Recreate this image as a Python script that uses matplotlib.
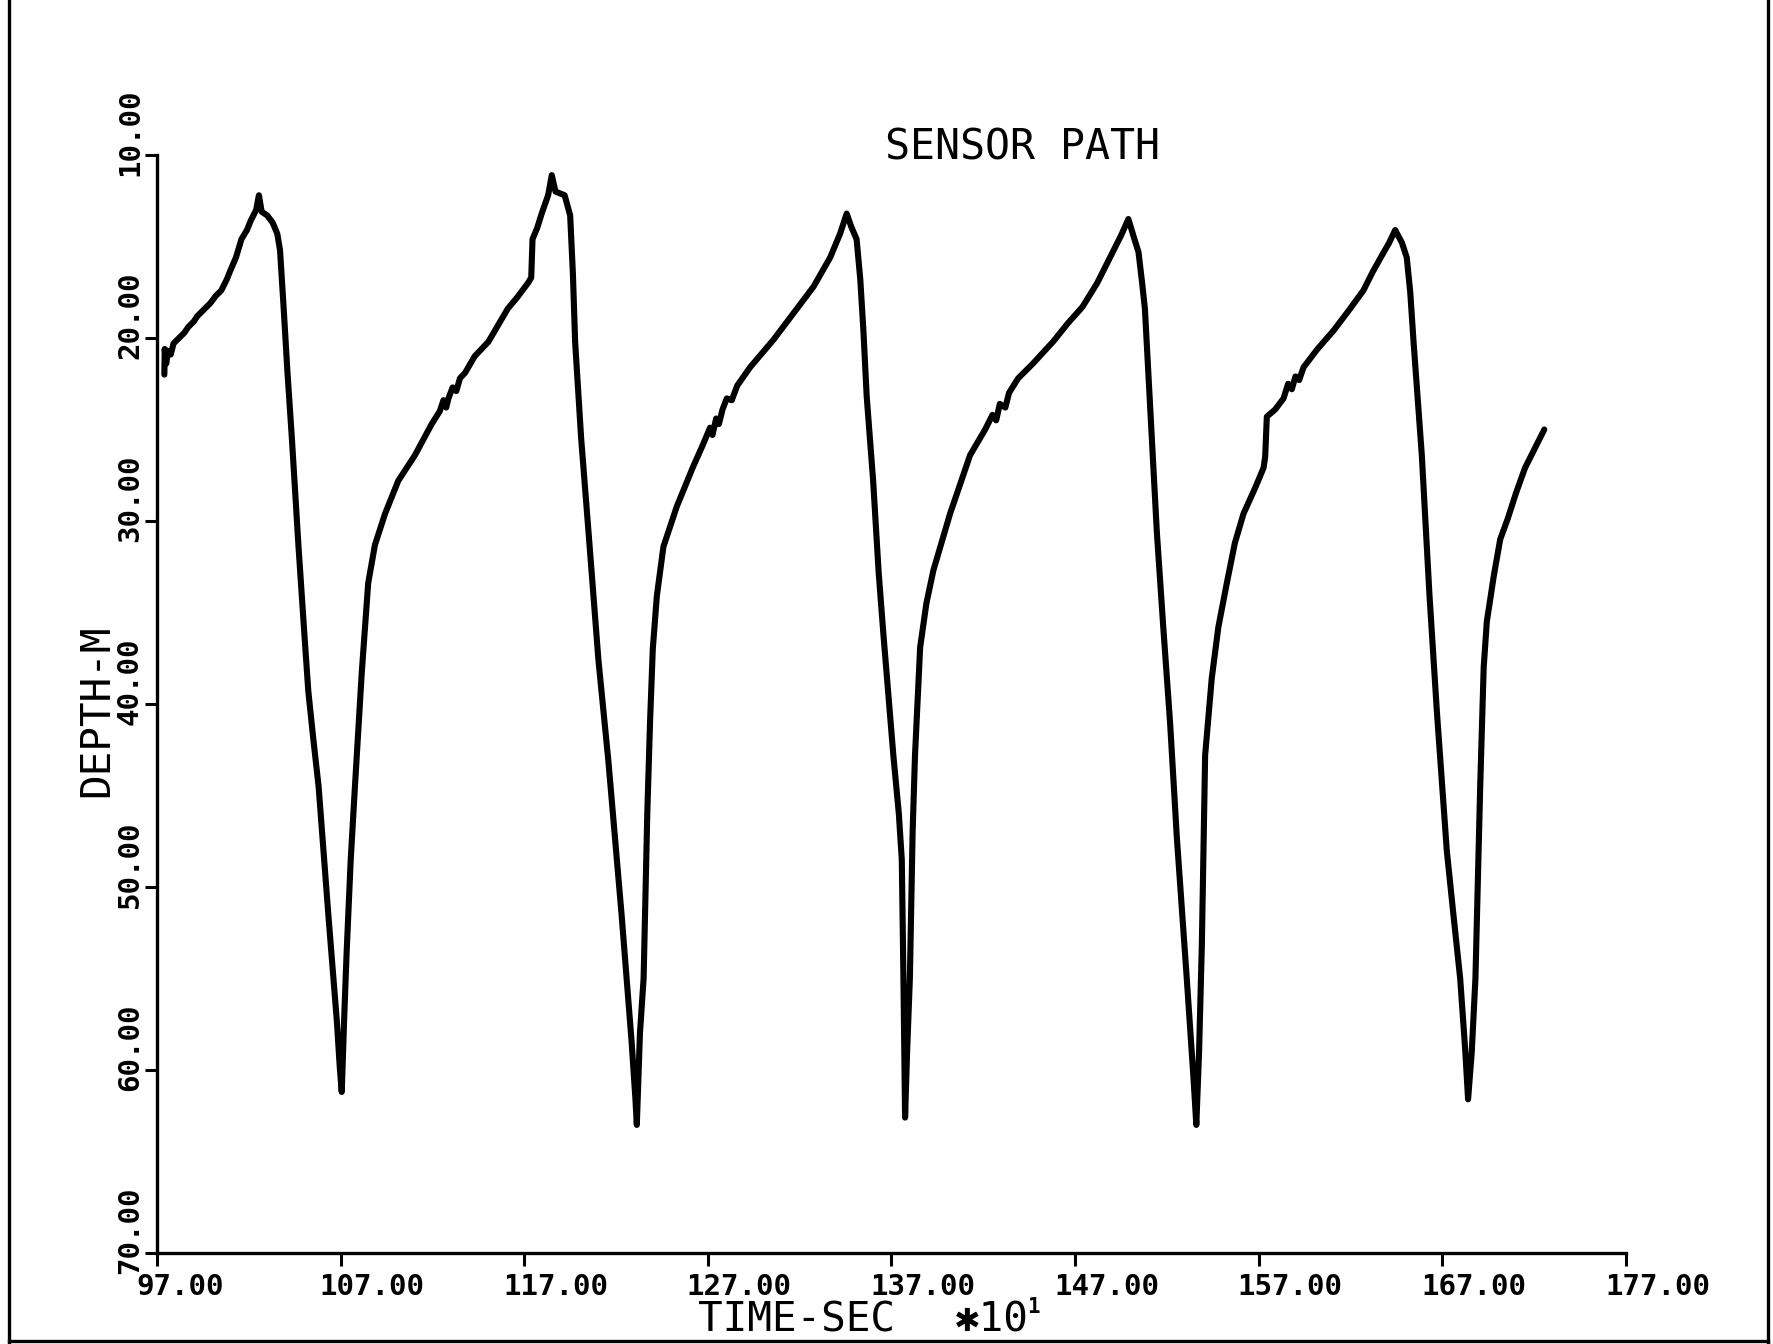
import matplotlib
matplotlib.use("Agg")
import matplotlib.pyplot as plt
from matplotlib.transforms import blended_transform_factory, ScaledTranslation
from matplotlib.lines import Line2D

# ---------------- data ----------------
time_s10 = [
    # start and first ascent
    97.40, 97.42, 97.50, 97.60, 97.75, 97.90, 98.20, 98.50, 98.70, 99.00,
    99.20, 99.60, 99.90, 100.20, 100.50, 100.80, 101.00, 101.30, 101.60, 101.90,
    102.10, 102.40, 102.55, 102.70, 103.00, 103.30, 103.55, 103.70,
    # descent 1
    103.90, 104.10, 104.34, 104.70, 105.00, 105.24, 105.50, 105.80, 106.33, 106.80,
    106.95, 107.06,
    # rise 1
    107.20, 107.33, 107.55, 107.78, 108.15, 108.50, 108.87, 109.42, 110.14, 111.05,
    111.96, 112.40, 112.60, 112.75, 112.87, 113.10, 113.30, 113.50, 113.78, 114.30,
    115.05, 116.10, 116.60, 117.20, 117.38, 117.45, 117.70, 117.95, 118.30, 118.50,
    118.70, 119.20, 119.50,
    # descent 2
    119.65, 119.77, 120.10, 120.50, 121.04, 121.58, 122.30, 122.85, 123.05, 123.13,
    # rise 2
    123.30, 123.50, 123.70, 123.85, 124.00, 124.22, 124.58, 125.31, 126.21, 126.70,
    127.12, 127.25, 127.45, 127.60, 127.80, 128.03, 128.30, 128.60, 129.30, 130.57,
    131.66, 132.75, 133.66, 134.20, 134.56,
    # descent 3
    134.80, 135.10, 135.30, 135.47, 135.65, 136.00, 136.30, 136.56, 137.10, 137.40,
    137.56, 137.65, 137.74,
    # rise 3
    137.85, 138.00, 138.15, 138.28, 138.56, 138.90, 139.28, 140.19, 141.28, 142.10,
    142.50, 142.70, 142.90, 143.20, 143.40, 143.90, 144.70, 145.80, 146.60, 147.40,
    148.20, 148.90, 149.50, 149.90,
    # descent 4
    150.20, 150.45, 150.65, 150.80, 151.08, 151.45, 151.80, 152.17, 152.54, 153.08,
    153.45, 153.60,
    # rise 4
    153.75, 153.90, 154.08, 154.44, 154.80, 155.26, 155.70, 156.17, 156.80, 157.26,
    157.35, 157.44, 157.90, 158.35, 158.60, 158.80, 159.00, 159.20, 159.44, 160.20,
    161.07, 161.90, 162.70, 163.20, 163.70, 164.10, 164.43,
    # descent 5
    164.80, 165.06, 165.25, 165.43, 165.88, 166.30, 166.70, 167.24, 167.60, 167.97,
    168.25, 168.40,
    # rise 5
    168.60, 168.80, 169.06, 169.25, 169.42, 169.80, 170.15, 170.55, 171.00, 171.50,
    172.00, 172.55,
]
depth_m = [
    22.0, 20.6, 21.4, 20.7, 20.9, 20.3, 20.0, 19.7, 19.4, 19.1,
    18.8, 18.4, 18.1, 17.7, 17.4, 16.8, 16.3, 15.6, 14.6, 14.1,
    13.6, 13.0, 12.2, 13.1, 13.3, 13.7, 14.3, 15.2,
    18.4, 21.8, 25.4, 31.3, 35.8, 39.3, 41.8, 44.5, 51.5, 57.4,
    59.8, 61.2,
    57.0, 53.5, 48.5, 44.5, 38.3, 33.4, 31.3, 29.6, 27.8, 26.4,
    24.7, 24.0, 23.4, 23.8, 23.3, 22.7, 22.9, 22.2, 21.9, 21.0,
    20.2, 18.4, 17.8, 17.0, 16.7, 14.6, 14.0, 13.2, 12.2, 11.1,
    12.0, 12.2, 13.3,
    16.5, 20.2, 25.5, 30.6, 37.6, 43.1, 51.5, 58.5, 61.5, 63.0,
    58.0, 55.0, 46.0, 41.0, 37.0, 34.1, 31.4, 29.2, 27.0, 25.9,
    24.9, 25.3, 24.4, 24.7, 23.9, 23.3, 23.4, 22.6, 21.6, 20.1,
    18.65, 17.2, 15.6, 14.3, 13.2,
    13.9, 14.6, 16.8, 19.6, 23.2, 27.8, 32.8, 36.2, 42.8, 46.0,
    48.5, 55.0, 62.6,
    59.0, 55.0, 47.0, 42.8, 36.9, 34.5, 32.7, 29.6, 26.4, 25.0,
    24.2, 24.5, 23.6, 23.8, 23.0, 22.2, 21.4, 20.2, 19.2, 18.3,
    17.0, 15.6, 14.4, 13.5,
    14.5, 15.3, 17.0, 18.4, 23.7, 30.6, 35.8, 41.0, 47.3, 55.0,
    60.5, 63.0,
    59.0, 53.2, 42.8, 38.6, 35.8, 33.4, 31.2, 29.6, 28.2, 27.1,
    26.5, 24.3, 23.9, 23.3, 22.5, 22.8, 22.1, 22.3, 21.6, 20.6,
    19.6, 18.5, 17.4, 16.4, 15.5, 14.8, 14.1,
    14.8, 15.6, 17.5, 20.2, 26.4, 34.1, 40.4, 48.0, 51.5, 55.0,
    59.0, 61.6,
    59.0, 55.0, 44.5, 38.0, 35.5, 33.0, 31.0, 29.9, 28.5, 27.1,
    26.1, 25.0,
]
x_ticks = [97, 107, 117, 127, 137, 147, 157, 167, 177]
x_tick_labels = ["97.00", "107.00", "117.00", "127.00", "137.00",
                 "147.00", "157.00", "167.00", "177.00"]
y_ticks = [10, 20, 30, 40, 50, 60, 70]
y_tick_labels = ["10.00", "20.00", "30.00", "40.00", "50.00", "60.00", "70.00"]
title_text = "SENSOR PATH"
x_label = "TIME-SEC"
x_scale_text = "\u273110"
x_scale_exp = "1"
y_label = "DEPTH-M"

# ---------------- figure ----------------
W, H = 1774, 1344
fig = plt.figure(figsize=(W / 100, H / 100), dpi=100)
fig.patch.set_facecolor("white")

ax_left, ax_right, ax_top, ax_bottom = 157, 1626, 155, 1253
ax = fig.add_axes([ax_left / W, 1 - ax_bottom / H,
                   (ax_right - ax_left) / W, (ax_bottom - ax_top) / H])
ax.set_facecolor("white")

ax.plot(time_s10, depth_m, color="black", lw=4.4,
        solid_joinstyle="round", solid_capstyle="round", clip_on=False)

ax.set_xlim(97, 177)
ax.set_ylim(70, 10)
for s in ("top", "right"):
    ax.spines[s].set_visible(False)
for s in ("left", "bottom"):
    ax.spines[s].set_linewidth(2.4)
    ax.spines[s].set_color("black")

ax.set_xticks(x_ticks)
ax.set_yticks(y_ticks)
ax.tick_params(direction="out", length=9, width=2.2, color="black",
               labelbottom=False, labelleft=False)

mono = ["DejaVu Sans Mono", "DejaVu Sans"]
px = 1 / 100.0  # inch per pixel

# x tick labels
xt = blended_transform_factory(ax.transData, ax.transAxes) + \
    ScaledTranslation(-21 * px, -20 * px, fig.dpi_scale_trans)
for v, lbl in zip(x_ticks, x_tick_labels):
    ax.text(v, 0, lbl, transform=xt, ha="left", va="top",
            fontsize=21, family=mono, fontweight="bold", clip_on=False)

# y tick labels (rotated)
yt = blended_transform_factory(ax.transAxes, ax.transData) + \
    ScaledTranslation(-13 * px, -21 * px, fig.dpi_scale_trans)
for v, lbl in zip(y_ticks, y_tick_labels):
    ax.text(0, v, lbl, transform=yt, rotation=90, ha="right", va="bottom",
            fontsize=21, family=mono, fontweight="bold", clip_on=False)

# title
fig.text(1023 / W, 1 - 160 / H, title_text, ha="center", va="baseline",
         fontsize=30, family=mono)

# axis labels
fig.text(698 / W, 1 - 1332 / H, x_label, ha="left", va="baseline",
         fontsize=29.5, family=mono)
fig.text(955 / W, 1 - 1332 / H, x_scale_text, ha="left", va="baseline",
         fontsize=29.5, family=mono)
fig.text(1027 / W, 1 - 1313 / H, x_scale_exp, ha="left", va="baseline",
         fontsize=15, family=mono, fontweight="bold")
fig.text(97 / W, 1 - 711 / H, y_label, rotation=90, ha="center", va="center",
         fontsize=29.5, family=mono)

# page border (left, right, bottom)
for xs, ys in (([9 / W, 9 / W], [0, 1]),
               ([1768 / W, 1768 / W], [0, 1]),
               ([9 / W, 1768 / W], [1 - 1341 / H, 1 - 1341 / H])):
    fig.add_artist(Line2D(xs, ys, color="black", lw=2.4,
                          transform=fig.transFigure))

fig.savefig("out.png", dpi=100, facecolor="white")
